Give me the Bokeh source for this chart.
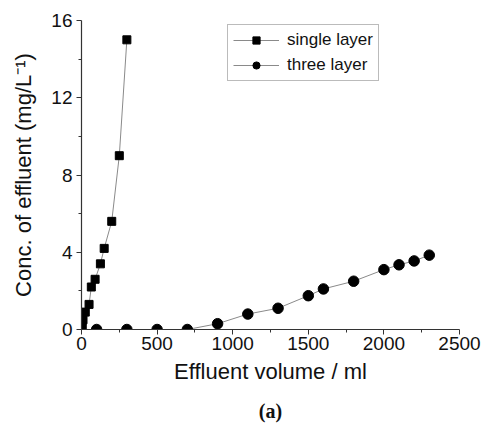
from bokeh.plotting import figure
from bokeh.models import Legend, LegendItem, Title, FixedTicker
from bokeh.embed import file_html
from bokeh.resources import INLINE

# Data
single_x = [5, 10, 25, 50, 65, 90, 125, 150, 200, 250, 300]
single_y = [0.15, 0.5, 0.9, 1.3, 2.2, 2.6, 3.4, 4.2, 5.6, 9.0, 15.0]

three_x = [100, 300, 500, 700, 900, 1100, 1300, 1500, 1600, 1800, 2000, 2100, 2200, 2300]
three_y = [0, 0, 0, 0, 0.3, 0.8, 1.1, 1.75, 2.1, 2.5, 3.1, 3.35, 3.55, 3.85]

x_ticks = [0, 500, 1000, 1500, 2000, 2500]
y_ticks = [0, 4, 8, 12, 16]
x_minor = [250, 750, 1250, 1750, 2250]
y_minor = [2, 6, 10, 14]

FONT = "Liberation Sans"
AXIS_COL = "#333333"
TEXT_COL = "#111111"
LINE_COL = "#8a8a8a"

p = figure(width=482, height=434, x_range=(0, 2500), y_range=(0, 16),
           output_backend="svg", toolbar_location=None,
           min_border_left=81, min_border_right=23, min_border_top=20,
           min_border_bottom=105)

p.xgrid.visible = False
p.ygrid.visible = False
p.outline_line_color = None
p.background_fill_color = "white"
p.border_fill_color = "white"

l1 = p.line(single_x, single_y, line_color=LINE_COL, line_width=1)
s1 = p.scatter(single_x, single_y, marker="square", size=8, fill_color="black", line_color="black")
l2 = p.line(three_x, three_y, line_color=LINE_COL, line_width=1)
s2 = p.scatter(three_x, three_y, marker="circle", size=10.5, fill_color="black", line_color="black")

for ax, ticks, minor in ((p.xaxis[0], x_ticks, x_minor), (p.yaxis[0], y_ticks, y_minor)):
    ax.ticker = FixedTicker(ticks=ticks, minor_ticks=minor)
    ax.axis_line_color = AXIS_COL
    ax.axis_line_width = 1.2
    ax.major_tick_line_color = AXIS_COL
    ax.minor_tick_line_color = AXIS_COL
    ax.major_tick_in = 0
    ax.major_tick_out = 5
    ax.minor_tick_in = 0
    ax.minor_tick_out = 3
    ax.major_label_text_font = FONT
    ax.major_label_text_font_size = "19px"
    ax.major_label_text_color = TEXT_COL
    ax.axis_label_text_font = FONT
    ax.axis_label_text_font_size = "22px"
    ax.axis_label_text_font_style = "normal"
    ax.axis_label_text_color = TEXT_COL

p.xaxis.axis_label = "Effluent volume / ml"
p.yaxis.axis_label = "Conc. of effluent (mg/L\u207b\u00b9)"
p.xaxis.major_label_standoff = 2
p.xaxis.axis_label_standoff = 6
p.yaxis.major_label_standoff = 4
p.yaxis.axis_label_standoff = 12

legend = Legend(items=[LegendItem(label="single layer", renderers=[l1, s1]),
                       LegendItem(label="three layer", renderers=[l2, s2])],
                location=(146, 248))
legend.border_line_color = "#777777"
legend.border_line_width = 1
legend.background_fill_alpha = 1
legend.label_text_font = FONT
legend.label_text_font_size = "17px"
legend.label_text_color = TEXT_COL
legend.padding = 5
legend.spacing = 5
legend.margin = 0
legend.label_height = 18
legend.glyph_height = 18
legend.glyph_width = 46
legend.label_standoff = 8
p.add_layout(legend)

caption = Title(text="(a)", align="center", text_font="Liberation Serif",
                text_font_style="bold", text_font_size="20px",
                text_color=TEXT_COL, standoff=22)
p.add_layout(caption, "below")

open("out.html", "w").write(file_html(p, INLINE))
